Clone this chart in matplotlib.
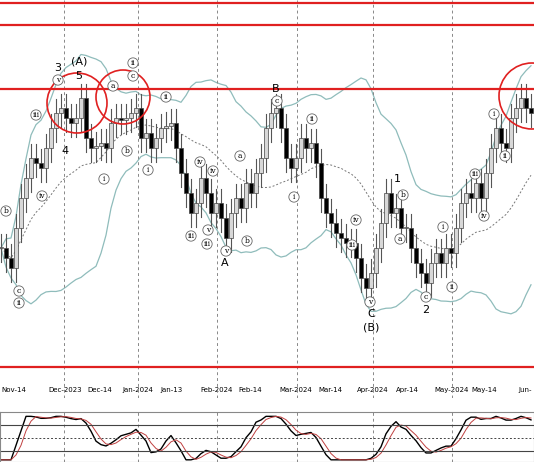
import numpy as np
import pandas as pd
import matplotlib
matplotlib.use("Agg")
import matplotlib.pyplot as plt
from matplotlib.patches import Circle, Rectangle

# closes (price units = 400 - pixel y), one candle every 5 px
closes_y = [250,260,270,230,200,180,160,165,170,150,130,115,110,120,125,120,100,140,150,148,
            145,150,125,120,122,120,115,110,140,135,150,140,130,128,125,150,175,195,215,205,
            180,195,215,205,220,240,215,200,210,185,195,175,160,130,115,110,130,160,170,160,
            140,150,145,165,200,215,225,235,240,245,245,260,280,290,275,250,225,195,215,210,
            230,230,250,265,275,285,265,255,265,250,255,230,205,195,200,185,200,175,150,130,
            145,150,120,110,100,110,115]
closes = [400 - v for v in closes_y]
tick_pos = [14, 65, 100, 138, 172, 217, 250, 296, 330, 373, 407, 452, 484, 525]
tick_labels = ["Nov-14", "Dec-2023", "Dec-14", "Jan-2024", "Jan-13", "Feb-2024", "Feb-14",
               "Mar-2024", "Mar-14", "Apr-2024", "Apr-14", "May-2024", "May-14", "Jun-"]
month_lines = [64, 138, 217, 297, 373, 452]
red_levels = [395, 373, 309, 31]
circled = [(19,293,"c"),(19,305,"ii"),(6,213,"b"),(36,117,"iii"),(42,198,"iv"),(58,82,"v"),
           (104,181,"i"),(113,88,"a"),(127,153,"b"),(133,65,"ii"),(133,78,"c"),(148,172,"i"),
           (166,99,"ii"),(191,238,"iii"),(200,164,"iv"),(208,232,"v"),(207,246,"iii"),
           (213,173,"iv"),(226,253,"v"),(240,158,"a"),(247,243,"b"),(277,103,"c"),
           (312,121,"ii"),(294,199,"i"),(356,222,"iv"),(352,247,"iii"),(370,304,"v"),
           (403,197,"b"),(400,241,"a"),(443,229,"i"),(426,299,"c"),(452,289,"ii"),
           (475,176,"iii"),(484,218,"iv"),(494,116,"i"),(505,158,"ii")]
plain = [(58,70,"3"),(79,64,"(A)"),(79,78,"5"),(65,153,"4"),(225,265,"A"),(276,91,"B"),
         (371,316,"C"),(371,329,"(B)"),(397,181,"1"),(426,312,"2")]
red_circles = [(77,105,30),(123,99,27),(532,98,33)]

W, H = 534, 462
fig = plt.figure(figsize=(W/100, H/100), dpi=100)
ax = fig.add_axes([0, 64/H, 1, 398/H])
ax2 = fig.add_axes([0, 0, 1, 50/H])
x = np.arange(len(closes)) * 5 + 1
c = pd.Series(closes, dtype=float)
o = c.shift(1).fillna(c.iloc[0])
mid = c.rolling(20, min_periods=1).mean()
sd = c.rolling(20, min_periods=2).std().fillna(0)
ax.plot(x, mid + 2*sd, color="#8fbcbb", lw=0.9)
ax.plot(x, mid - 2*sd, color="#8fbcbb", lw=0.9)
ax.plot(x, mid, color="#777", lw=0.7, ls=(0, (2, 2)))
for xi, oi, ci in zip(x, o, c):
    hi, lo = max(oi, ci) + 14, min(oi, ci) - 14
    ax.plot([xi, xi], [lo, hi], color="#555", lw=0.8, zorder=2)
    col = "#d8d8d8" if ci >= oi else "black"
    ax.add_patch(Rectangle((xi-1.6, min(oi, ci)), 3.2, max(abs(ci-oi), 1),
                           facecolor=col, edgecolor="#444", lw=0.5, zorder=3))
for v in month_lines:
    ax.axvline(v, color="#888", lw=0.7, ls=(0, (3, 3)))
    ax2.axvline(v, color="#888", lw=0.7, ls=(0, (3, 3)))
for v in red_levels:
    ax.axhline(v, color="#e02020", lw=1.6)
for cx, cy, r in red_circles:
    ax.add_patch(Circle((cx, 400-cy), r, fill=False, ec="#e02020", lw=1.2, zorder=5))
for px, py, t in circled:
    ax.text(px, 400-py, t, fontsize=5.5, ha="center", va="center", family="DejaVu Serif",
            bbox=dict(boxstyle="circle,pad=0.15", fc="white", ec="#666", lw=0.6), zorder=6)
for px, py, t in plain:
    ax.text(px, 400-py, t, fontsize=8, ha="center", va="center", zorder=6)
ax.set_xlim(0, W); ax.set_ylim(0, 398)
ax.set_yticks([])
ax.set_xticks(tick_pos)
ax.set_xticklabels(tick_labels, fontsize=5)
ax.tick_params(axis="x", direction="in", pad=-8, length=0)
for s in ax.spines.values(): s.set_visible(False)

lo14 = c.rolling(14, min_periods=1).min(); hi14 = c.rolling(14, min_periods=1).max()
k = (100 * (c - lo14) / (hi14 - lo14).replace(0, 1)).rolling(3, min_periods=1).mean()
d = k.rolling(3, min_periods=1).mean()
ax2.plot(x, k, color="black", lw=1.0)
ax2.plot(x, d, color="#c04040", lw=0.7)
for v in (80, 20): ax2.axhline(v, color="#444", lw=0.8)
ax2.axhline(50, color="#444", lw=0.7, ls=(0, (2, 2)))
ax2.set_xlim(0, W); ax2.set_ylim(-5, 110)
ax2.set_xticks([]); ax2.set_yticks([])
for s in ax2.spines.values(): s.set_color("#888")
fig.savefig("out.png", dpi=100)
